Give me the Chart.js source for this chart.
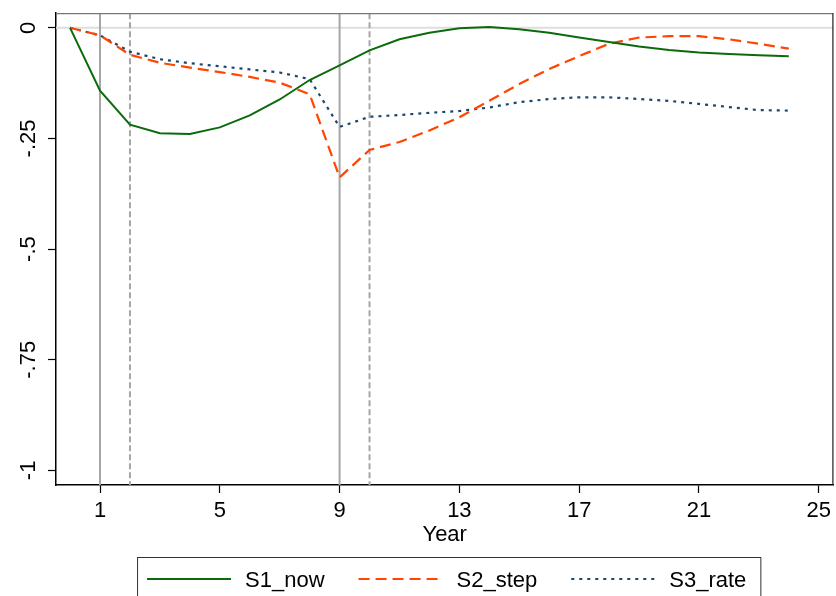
<!DOCTYPE html>
<html>
<head>
<meta charset="utf-8">
<script src="https://cdn.jsdelivr.net/npm/chart.js@4.4.0/dist/chart.umd.min.js"></script>
<style>
  body { margin: 0; background: #fff; }
  #wrap { width: 836px; height: 596px; }
</style>
</head>
<body>
<div id="wrap"><canvas id="myChart" width="836" height="596"></canvas></div>
<script>
// data block
const years = [0, 1, 2, 3, 4, 5, 6, 7, 8, 9, 10, 11, 12, 13, 14, 15, 16, 17, 18, 19, 20, 21, 22, 23, 24];
const s1_now = [0, -0.142, -0.219, -0.238, -0.240, -0.225, -0.198, -0.162, -0.118, -0.085, -0.051, -0.026, -0.011, -0.001, 0.002, -0.003, -0.011, -0.022, -0.032, -0.042, -0.050, -0.056, -0.059, -0.062, -0.064];
const s2_step = [0, -0.017, -0.061, -0.079, -0.090, -0.100, -0.111, -0.124, -0.150, -0.338, -0.276, -0.258, -0.232, -0.202, -0.165, -0.127, -0.093, -0.064, -0.036, -0.022, -0.019, -0.019, -0.026, -0.036, -0.047];
const s3_rate = [0, -0.017, -0.054, -0.071, -0.080, -0.087, -0.094, -0.101, -0.116, -0.224, -0.201, -0.197, -0.192, -0.188, -0.180, -0.168, -0.161, -0.157, -0.157, -0.161, -0.165, -0.172, -0.179, -0.186, -0.187];
const xTicks = [1, 5, 9, 13, 17, 21, 25];
const yTicks = [0, -0.25, -0.5, -0.75, -1];
const solidLines = [1, 9];
const dashLines = [2, 10];

const FONT = "'Liberation Sans', Arial, sans-serif";

function pts(vals) {
  return years.map((x, i) => ({ x: x, y: vals[i] }));
}

// reference lines, frame and boxed legend
const framePlugin = {
  id: 'frame',
  beforeDatasetsDraw(chart) {
    const ctx = chart.ctx, a = chart.chartArea;
    const xs = chart.scales.x, ys = chart.scales.y;
    ctx.save();
    ctx.lineWidth = 2;
    ctx.strokeStyle = '#dedede';
    const y0 = ys.getPixelForValue(0);
    ctx.beginPath(); ctx.moveTo(a.left, y0); ctx.lineTo(a.right, y0); ctx.stroke();
    ctx.strokeStyle = '#a6a6a6';
    solidLines.forEach(v => {
      const px = xs.getPixelForValue(v);
      ctx.beginPath(); ctx.moveTo(px, a.top); ctx.lineTo(px, a.bottom); ctx.stroke();
    });
    ctx.setLineDash([6, 3]);
    dashLines.forEach(v => {
      const px = xs.getPixelForValue(v);
      ctx.beginPath(); ctx.moveTo(px, a.top); ctx.lineTo(px, a.bottom); ctx.stroke();
    });
    ctx.restore();
  },
  afterDraw(chart) {
    const ctx = chart.ctx, a = chart.chartArea;
    ctx.save();
    // top and right edges of the plot region
    ctx.lineWidth = 1.2;
    ctx.strokeStyle = '#777';
    ctx.beginPath(); ctx.moveTo(a.left, a.top + 0.5); ctx.lineTo(a.right, a.top + 0.5); ctx.stroke();
    ctx.strokeStyle = '#222';
    ctx.beginPath(); ctx.moveTo(a.right - 0.5, a.top); ctx.lineTo(a.right - 0.5, a.bottom); ctx.stroke();

    // legend
    const sets = chart.data.datasets;
    ctx.font = '22px ' + FONT;
    const sample = 84, gap = 14, itemGap = 34;
    const widths = sets.map(d => sample + gap + ctx.measureText(d.label).width);
    const total = widths.reduce((s, w) => s + w, 0) + itemGap * (sets.length - 1);
    let x = (a.left + a.right) / 2 + 2 - total / 2;
    const boxL = x - 10, boxR = x + total + 14;
    ctx.strokeStyle = '#333';
    ctx.lineWidth = 1;
    ctx.strokeRect(boxL + 0.5, 557.5, boxR - boxL, 60);
    const midY = 579;
    sets.forEach((d, i) => {
      ctx.strokeStyle = d.borderColor;
      ctx.lineWidth = d.borderWidth;
      ctx.setLineDash(d.borderDash || []);
      ctx.beginPath(); ctx.moveTo(x, midY); ctx.lineTo(x + sample, midY); ctx.stroke();
      ctx.setLineDash([]);
      ctx.fillStyle = '#000';
      ctx.textBaseline = 'alphabetic';
      ctx.fillText(d.label, x + sample + gap, 587);
      x += widths[i] + itemGap;
    });
    ctx.restore();
  }
};

// config block
const config = {
  type: 'line',
  data: {
    datasets: [
      { label: 'S1_now', data: pts(s1_now), borderColor: '#0b6b0b', borderWidth: 2, pointRadius: 0, tension: 0 },
      { label: 'S2_step', data: pts(s2_step), borderColor: '#ff4500', borderWidth: 2.2, borderDash: [11, 6], pointRadius: 0, tension: 0 },
      { label: 'S3_rate', data: pts(s3_rate), borderColor: '#1a476f', borderWidth: 2.2, borderDash: [3, 5], pointRadius: 0, tension: 0 }
    ]
  },
  options: {
    responsive: false,
    animation: false,
    layout: { padding: { top: 12, right: 2, left: 10, bottom: 48 } },
    plugins: {
      legend: { display: false },
      tooltip: { enabled: false }
    },
    scales: {
      x: {
        type: 'linear',
        min: -0.47,
        max: 25.49,
        afterBuildTicks: s => { s.ticks = xTicks.map(v => ({ value: v })); },
        afterFit: s => { s.height = 63; },
        grid: { drawOnChartArea: false, drawTicks: true, tickLength: 8, color: '#000', tickWidth: 1.2 },
        border: { color: '#000', width: 1.5 },
        ticks: { color: '#000', padding: 5, font: { family: FONT, size: 22 }, maxRotation: 0, autoSkip: false },
        title: { display: true, text: 'Year', color: '#000', padding: { top: 0, bottom: 0 }, font: { family: FONT, size: 22 } }
      },
      y: {
        min: -1.033,
        max: 0.033,
        afterBuildTicks: s => { s.ticks = yTicks.map(v => ({ value: v })); },
        afterFit: s => { s.width = 46; },
        grid: { drawOnChartArea: false, drawTicks: true, tickLength: 8, color: '#000', tickWidth: 1.2 },
        border: { color: '#000', width: 1.5 },
        ticks: {
          color: '#000',
          padding: 0,
          minRotation: 90,
          maxRotation: 90,
          crossAlign: 'center',
          autoSkip: false,
          font: { family: FONT, size: 22 },
          callback: v => String(v).replace('0.', '.')
        }
      }
    }
  },
  plugins: [framePlugin]
};

// render init block
const myChart = new Chart(document.getElementById('myChart'), config);
</script>
</body>
</html>
